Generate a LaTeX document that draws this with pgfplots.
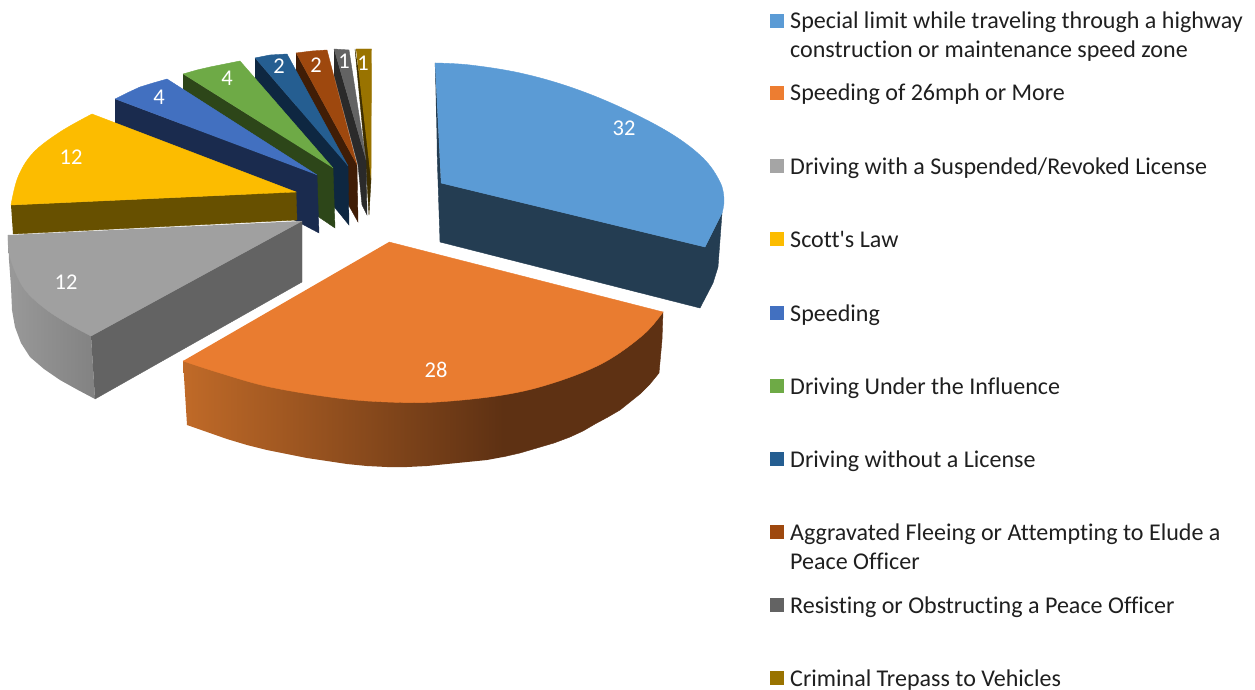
\documentclass[border=0pt]{standalone}
\usepackage{pgfplots}
\usepackage{fontspec}
\setmainfont{Carlito}
\newfontfamily\cf[Ligatures=NoCommon]{Carlito}
\pgfplotsset{compat=1.18}

\definecolor{cBlue}{HTML}{5B9BD5}
\definecolor{cBlueD}{HTML}{243D52}
\definecolor{cOrange}{HTML}{E97C30}
\definecolor{cOrangeL}{HTML}{C06A28}
\definecolor{cOrangeD}{HTML}{5E3113}
\definecolor{cKeyO}{HTML}{ED7D31}
\definecolor{cKeyG}{HTML}{A5A5A5}
\definecolor{cGrey}{HTML}{A0A0A0}
\definecolor{cGreyD}{HTML}{636363}
\definecolor{cGreyL}{HTML}{999999}
\definecolor{cGreyR}{HTML}{828282}
\definecolor{cYellow}{HTML}{FCBC00}
\definecolor{cYellowD}{HTML}{675000}
\definecolor{cSpeed}{HTML}{4270C0}
\definecolor{cSpeedD}{HTML}{1A2B4E}
\definecolor{cGreen}{HTML}{6EAA46}
\definecolor{cGreenD}{HTML}{2D4619}
\definecolor{cNavy}{HTML}{255E91}
\definecolor{cNavyD}{HTML}{0E2741}
\definecolor{cBrown}{HTML}{9E480E}
\definecolor{cBrownD}{HTML}{401D06}
\definecolor{cDark}{HTML}{636363}
\definecolor{cDarkD}{HTML}{2A2A2A}
\definecolor{cGold}{HTML}{997300}
\definecolor{cGoldD}{HTML}{3D2E00}

\pgfplotsset{
  part/.style={draw=#1, line width=0.4pt, fill=#1, forget plot},
  arc/.style={part=#1, smooth, tension=0.6},
  key/.style={only marks, mark=square*, mark size=6.5pt, color=#1, forget plot},
}
\newcommand{\lab}[3]{\node[text=white, font=\cf\fontsize{22.5}{26}\selectfont] at (axis cs:#1,#2) {#3};}
\newcommand{\txt}[3]{\node[anchor=base west, inner sep=0pt, text=black!88, font=\cf\fontsize{24.05}{28}\selectfont] at (axis cs:#1,#2) {#3};}

\begin{document}
\begin{tikzpicture}
\begin{axis}[
    scale only axis,
    width=1255pt, height=690pt,
    xmin=0, xmax=1255, ymin=0, ymax=690,
    y dir=reverse,
    hide axis,
    clip=false,
]
% small slices, back to front
\addplot[part=cGoldD] coordinates {(355,49) (366,165) (369,215) (371,180) (362,90)};
\addplot[part=cGold] coordinates {(356,49) (371.5,49) (371,180)};
\addplot[part=cDarkD] coordinates {(334,49) (366,160) (367,215) (362,205) (358,165) (334,75)};
\addplot[part=cDark] coordinates {(334,49) (349,50) (366,160)};
\addplot[part=cBrownD] coordinates {(296,53) (357,165) (358,222) (296,110)};
\addplot[part=cBrown] coordinates {(296,53) (312,51) (327,50) (357,165)};
\addplot[part=cNavyD] coordinates {(255,58) (348,166) (349,225) (255,110)};
\addplot[part=cNavy] coordinates {(255,58) (270,55) (287,54) (348,166)};
\addplot[part=cGreenD] coordinates {(183,74) (333,168) (335,228) (183,125)};
\addplot[part=cGreen] coordinates {(183,74) (197,70) (210,67) (225,64) (240,61) (333,168)};
\addplot[part=cSpeedD] coordinates {(115,99) (317,175) (319,233) (115,125)};
\addplot[part=cSpeed] coordinates {(115,99) (127,93) (140,87) (153,83) (167,79) (317,175)};

% scott's law
\addplot[part=cYellowD] coordinates {(11,205) (296,192) (297,220) (13,234)};
\addplot[part=cYellow] coordinates {(92,114) (296,192) (11,205) (40,155)};
\addplot[arc=cYellow] coordinates {(92,114) (60,132) (33,153) (18,177) (11,205)};

% suspended licence
\addplot[draw=none, shade, left color=cGreyL, right color=cGreyR, forget plot] coordinates {(91,336) (95,399) (78,390) (60,380) (44,369) (30,357) (21,343) (15,327) (12,310) (11,287) (9,260) (8,235)};
\addplot[part=cGreyD] coordinates {(91,336) (302,221) (302,282) (95,399)};
\addplot[part=cGrey] coordinates {(302,221) (91,336) (35,295) (8,235)};
\addplot[arc=cGrey] coordinates {(8,235) (10,257) (23,287) (43,307) (67,323) (91,336)};

% special limit
\addplot[part=cBlueD] coordinates {(435,63) (441,183) (705,247) (722,213) (720,240) (718,267) (713,283) (700,308) (440,242) (437,150)};
\addplot[part=cBlue] coordinates {(435,63) (600,120) (722,213) (705,247) (441,183)};
\addplot[arc=cBlue] coordinates {(435,63) (470,65) (520,73) (570,87) (620,107) (670,133) (703,158) (720,182) (724,200) (722,213)};

% 26mph or more
\addplot[draw=none, shade, left color=cOrangeL, right color=cOrangeD, forget plot] coordinates {(183,361) (503,395) (503,457) (487,460) (467,462) (447,464) (427,466) (407,467) (387,467) (367,466) (347,464) (327,461) (307,458) (287,454) (267,450) (247,445) (227,439) (207,432) (187,425)};
\addplot[part=cOrangeD] coordinates {(502.5,395) (663,312) (662,340) (659,373) (650,384) (640,394) (630,402) (620,410) (608,417) (595,424) (583,431) (570,437) (554,443) (537,448) (520,453) (502.5,457)};
\addplot[part=cOrange] coordinates {(389,242) (663,312) (412,396) (183,361)};
\addplot[arc=cOrange] coordinates {(663,312) (643,335) (603,363) (553,383) (503,395) (437,402) (387,402) (337,398) (270,387) (220,373) (183,361)};

% legend keys
\addplot[key=cBlue] coordinates {(776.5,21)};
\addplot[key=cKeyO] coordinates {(776.5,93)};
\addplot[key=cKeyG] coordinates {(776.5,166)};
\addplot[key=cYellow] coordinates {(776.5,239)};
\addplot[key=cSpeed] coordinates {(776.5,313)};
\addplot[key=cGreen] coordinates {(776.5,386)};
\addplot[key=cNavy] coordinates {(776.5,459)};
\addplot[key=cBrown] coordinates {(776.5,532)};
\addplot[key=cDark] coordinates {(776.5,605)};
\addplot[key=cGold] coordinates {(776.5,678)};

\lab{624}{128}{32}
\lab{436}{370}{28}
\lab{66}{282}{12}
\lab{71}{157}{12}
\lab{159}{97}{4}
\lab{227}{78}{4}
\lab{279}{66}{2}
\lab{316}{65}{2}
\lab{344}{61}{1}
\lab{363}{63}{1}

\txt{790}{29}{Special limit while traveling through a highway}
\txt{790}{58}{construction or maintenance speed zone}
\txt{790}{101}{Speeding of 26mph or More}
\txt{790}{174}{Driving with a Suspended/Revoked License}
\txt{790}{247}{Scott's Law}
\txt{790}{321}{Speeding}
\txt{790}{394}{Driving Under the Influence}
\txt{790}{467}{Driving without a License}
\txt{790}{540}{Aggravated Fleeing or Attempting to Elude a}
\txt{790}{569}{Peace Officer}
\txt{790}{613}{Resisting or Obstructing a Peace Officer}
\txt{790}{686}{Criminal Trepass to Vehicles}
\end{axis}
\pgfresetboundingbox
\path[use as bounding box] (0,0) rectangle (1255pt,690pt);
\end{tikzpicture}
\end{document}
